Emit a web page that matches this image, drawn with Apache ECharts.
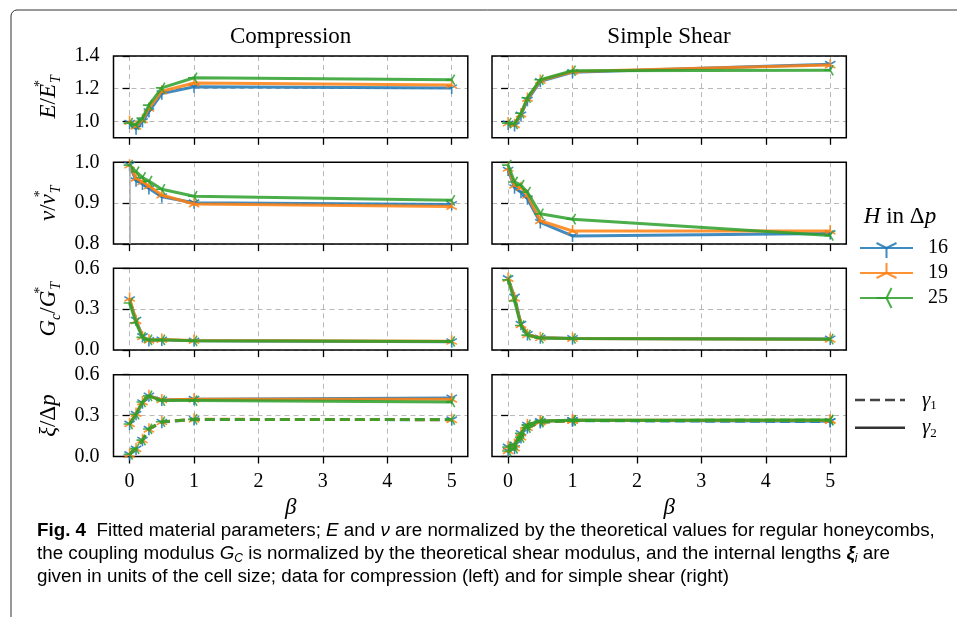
<!DOCTYPE html>
<html><head><meta charset="utf-8">
<script src="https://cdn.jsdelivr.net/npm/echarts@6/dist/echarts.min.js"></script>
<style>html,body{margin:0;padding:0;background:#fff}#c{width:957px;height:617px}</style>
</head><body><div id="c"></div>
<script>
// ---------- data ----------
const beta = [0, 0.1, 0.2, 0.3, 0.5, 1, 5];
const seriesNames = ['16', '19', '25'];
const xTicks = [0, 1, 2, 3, 4, 5];
const yTicksE = [1.0, 1.2, 1.4];
const yTicksNu = [0.8, 0.9, 1.0];
const yTicksG = [0.0, 0.3, 0.6];
const yTicksXi = [0.0, 0.3, 0.6];

// Compression
const compE16 = [0.99, 0.955, 1.00, 1.06, 1.170, 1.212, 1.205];
const compE19 = [1.00, 0.970, 1.01, 1.08, 1.185, 1.235, 1.222];
const compE25 = [0.99, 0.980, 1.02, 1.10, 1.205, 1.267, 1.255];
const compNu16 = [0.993, 0.955, 0.947, 0.936, 0.916, 0.901, 0.897];
const compNu19 = [0.993, 0.961, 0.952, 0.942, 0.920, 0.898, 0.892];
const compNu25 = [0.993, 0.977, 0.963, 0.954, 0.934, 0.917, 0.907];
const compG16 = [0.370, 0.220, 0.100, 0.070, 0.075, 0.068, 0.062];
const compG19 = [0.380, 0.215, 0.097, 0.072, 0.077, 0.070, 0.064];
const compG25 = [0.345, 0.200, 0.093, 0.075, 0.075, 0.068, 0.063];
const compXi2_16 = [0.238, 0.310, 0.395, 0.445, 0.415, 0.420, 0.430];
const compXi2_19 = [0.240, 0.315, 0.400, 0.445, 0.415, 0.420, 0.420];
const compXi2_25 = [0.238, 0.310, 0.400, 0.445, 0.410, 0.410, 0.400];
const compXi1_16 = [0.015, 0.055, 0.120, 0.200, 0.252, 0.272, 0.270];
const compXi1_19 = [0.015, 0.057, 0.122, 0.200, 0.254, 0.273, 0.270];
const compXi1_25 = [0.016, 0.058, 0.120, 0.202, 0.255, 0.272, 0.271];
// Simple shear
const shearE16 = [0.985, 0.975, 1.040, 1.130, 1.245, 1.300, 1.350];
const shearE19 = [0.990, 0.980, 1.045, 1.140, 1.250, 1.305, 1.345];
const shearE25 = [0.990, 0.985, 1.050, 1.145, 1.255, 1.310, 1.313];
const shearNu16 = [0.981, 0.938, 0.927, 0.911, 0.853, 0.820, 0.826];
const shearNu19 = [0.985, 0.944, 0.938, 0.919, 0.857, 0.832, 0.832];
const shearNu25 = [0.993, 0.952, 0.944, 0.927, 0.874, 0.861, 0.821];
const shearG16 = [0.525, 0.390, 0.190, 0.115, 0.090, 0.086, 0.082];
const shearG19 = [0.525, 0.380, 0.186, 0.112, 0.090, 0.085, 0.080];
const shearG25 = [0.515, 0.360, 0.180, 0.110, 0.088, 0.085, 0.080];
const shearXi2_16 = [0.070, 0.085, 0.170, 0.230, 0.258, 0.265, 0.258];
const shearXi2_19 = [0.072, 0.088, 0.172, 0.232, 0.258, 0.266, 0.266];
const shearXi2_25 = [0.070, 0.086, 0.170, 0.232, 0.260, 0.266, 0.268];
const shearXi1_16 = [0.040, 0.060, 0.140, 0.210, 0.250, 0.263, 0.256];
const shearXi1_19 = [0.042, 0.062, 0.142, 0.212, 0.252, 0.264, 0.264];
const shearXi1_25 = [0.040, 0.060, 0.140, 0.212, 0.252, 0.264, 0.266];

// ---------- styling / layout ----------
const serif = "'Liberation Serif','DejaVu Serif',serif";
const colors = ['#1f77b4', '#ff7f0e', '#2ca02c'];
const syms = [
  'path://M0,0L0,1M0,0L-0.866,-0.5M0,0L0.866,-0.5M0,-1L0,-1.001',
  'path://M0,0L0,-1M0,0L-0.866,0.5M0,0L0.866,0.5M0,1L0,1.001',
  'path://M0,0L-1,0M0,0L0.5,-0.866M0,0L0.5,0.866M1,0L1.001,0'
];
const colLeft = [113.5, 492];
const colW = 354.3;
const rowTop = [56, 162.3, 268.3, 374.7];
const rowH = 81.8;

const richName = {
  i: {fontFamily: serif, fontStyle: 'italic', fontSize: 23, lineHeight: 30, color: '#000'},
  n: {fontFamily: serif, fontSize: 23, lineHeight: 30, color: '#000'},
  sup: {fontFamily: serif, fontSize: 14, lineHeight: 15, verticalAlign: 'top', color: '#000', width: 1},
  sub: {fontFamily: serif, fontStyle: 'italic', fontSize: 14, lineHeight: 12, verticalAlign: 'bottom', color: '#000'}
};
const rowDefs = [
  {min: 0.9, max: 1.4, ticks: yTicksE, name: '{i|E}{n|/}{i|E}{sup|*}{sub|T}'},
  {min: 0.8, max: 1.0, ticks: yTicksNu, name: '{i|ν}{n|/}{i|ν}{sup|*}{sub|T}'},
  {min: 0.0, max: 0.6, ticks: yTicksG, name: '{i|G}{sub|c}{n|/}{i|G}{sup|*}{sub|T}'},
  {min: 0.0, max: 0.6, ticks: yTicksXi, name: '{i|ξ}{n|/Δ}{i|p}'}
];
const panels = [
  [[[compE16, compE19, compE25]], [[shearE16, shearE19, shearE25]]],
  [[[compNu16, compNu19, compNu25]], [[shearNu16, shearNu19, shearNu25]]],
  [[[compG16, compG19, compG25]], [[shearG16, shearG19, shearG25]]],
  [[[compXi1_16, compXi1_19, compXi1_25], [compXi2_16, compXi2_19, compXi2_25]],
   [[shearXi1_16, shearXi1_19, shearXi1_25], [shearXi2_16, shearXi2_19, shearXi2_25]]]
];

const grids = [], xAxes = [], yAxes = [], series = [];
for (let r = 0; r < 4; r++) {
  for (let c = 0; c < 2; c++) {
    const g = r * 2 + c;
    const rd = rowDefs[r];
    grids.push({left: colLeft[c], top: rowTop[r], width: colW, height: rowH, z: 1,
      show: true, borderColor: '#000', borderWidth: 1.5, backgroundColor: 'rgba(0,0,0,0)'});
    xAxes.push({type: 'value', gridIndex: g, min: -0.25, max: 5.25,
      axisLine: {show: false},
      axisTick: {show: true, length: 7, customValues: xTicks, lineStyle: {color: '#000', width: 1.3}},
      axisLabel: {show: r === 3, customValues: xTicks, margin: 15, fontFamily: serif, fontSize: 20, color: '#000',
        formatter: v => String(v)},
      splitLine: {show: true, lineStyle: {color: '#b8b8b8', type: [5, 4], width: 1}},
      name: r === 3 ? 'β' : '', nameLocation: 'middle', nameGap: 40,
      nameTextStyle: {fontFamily: serif, fontStyle: 'italic', fontSize: 23, color: '#000'}
    });
    yAxes.push({type: 'value', gridIndex: g, min: rd.min, max: rd.max,
      axisLine: {show: false},
      axisTick: {show: true, length: 7, customValues: rd.ticks, lineStyle: {color: '#000', width: 1.3}},
      axisLabel: {show: c === 0, customValues: rd.ticks, margin: 14, fontFamily: serif, fontSize: 20, color: '#000',
        formatter: v => v.toFixed(1)},
      splitLine: {show: true, lineStyle: {color: '#b8b8b8', type: [5, 4], width: 1}},
      name: c === 0 ? rd.name : '', nameLocation: 'middle', nameGap: 50, nameRotate: 90,
      nameTextStyle: {rich: richName}
    });
    const groups = panels[r][c];
    groups.forEach((grp, gi) => {
      const dashed = groups.length === 2 && gi === 0;
      grp.forEach((vals, i) => {
        const s = {
          type: 'line', name: seriesNames[i], xAxisIndex: g, yAxisIndex: g,
          data: beta.map((b, k) => [b, vals[k]]),
          symbol: syms[i], symbolSize: 12, symbolKeepAspect: true, showSymbol: true,
          lineStyle: {color: colors[i], width: 3, opacity: 0.85, type: dashed ? [10, 5] : 'solid'},
          itemStyle: {color: 'rgba(0,0,0,0)', borderColor: colors[i], borderWidth: 1.6, opacity: 0.85},
          emphasis: {disabled: true}, z: 2 + i, animation: false
        };
        if (r === 1 && c === 0 && i === 0) {
          s.markLine = {silent: true, symbol: 'none', label: {show: false}, animation: false,
            lineStyle: {color: '#aaaaaa', type: 'solid', width: 1.5},
            data: [[{coord: [0, 0.99]}, {coord: [0, 0.8]}]]};
        }
        series.push(s);
      });
    });
  }
}

const capFont = "'Liberation Sans','Open Sans',sans-serif";
const capSize = 18.8;
const capRich = {
  b: {fontFamily: capFont, fontWeight: 'bold', fontSize: capSize, color: '#222'},
  t: {fontFamily: capFont, fontSize: capSize, color: '#222'},
  i: {fontFamily: capFont, fontStyle: 'italic', fontSize: capSize, color: '#222'},
  s: {fontFamily: capFont, fontStyle: 'italic', fontSize: 12, color: '#222', verticalAlign: 'bottom', lineHeight: 16},
  bi: {fontFamily: capFont, fontStyle: 'italic', fontWeight: 'bold', fontSize: capSize, color: '#222'}
};
function capLine(text, y) {
  return {type: 'text', x: 37, y: y, silent: true,
    style: {text: text, rich: capRich, verticalAlign: 'middle', align: 'left', lineHeight: 22}};
}

const graphic = [
  {type: 'rect', silent: true, shape: {x: 11, y: 10, width: 1000, height: 700, r: 6},
    style: {fill: 'none', stroke: '#333', lineWidth: 1}},
  {type: 'text', x: 290.6, y: 37, silent: true,
    style: {text: 'Compression', fontFamily: serif, fontSize: 23, fill: '#000', align: 'center', verticalAlign: 'middle'}},
  {type: 'text', x: 669, y: 37, silent: true,
    style: {text: 'Simple Shear', fontFamily: serif, fontSize: 23, fill: '#000', align: 'center', verticalAlign: 'middle'}},
  {type: 'text', x: 900, y: 217, silent: true,
    style: {text: '{i|H}{n| in Δ}{i|p}', align: 'center', verticalAlign: 'middle',
      rich: {i: {fontFamily: serif, fontStyle: 'italic', fontSize: 23, color: '#000'},
             n: {fontFamily: serif, fontSize: 23, color: '#000'}}}},
  {type: 'line', silent: true, shape: {x1: 855, y1: 400, x2: 905, y2: 400},
    style: {stroke: '#444', lineWidth: 2.5, lineDash: [10, 5]}},
  {type: 'line', silent: true, shape: {x1: 855, y1: 427.7, x2: 905, y2: 427.7},
    style: {stroke: '#333', lineWidth: 2.5}},
  {type: 'text', x: 922, y: 400, silent: true,
    style: {text: '{i|γ}{s|1}', verticalAlign: 'middle',
      rich: {i: {fontFamily: serif, fontStyle: 'italic', fontSize: 21, color: '#000', lineHeight: 24},
             s: {fontFamily: serif, fontSize: 13, color: '#000', verticalAlign: 'bottom', lineHeight: 14}}}},
  {type: 'text', x: 922, y: 427.7, silent: true,
    style: {text: '{i|γ}{s|2}', verticalAlign: 'middle',
      rich: {i: {fontFamily: serif, fontStyle: 'italic', fontSize: 21, color: '#000', lineHeight: 24},
             s: {fontFamily: serif, fontSize: 13, color: '#000', verticalAlign: 'bottom', lineHeight: 14}}}},
  capLine('{b|Fig. 4}{t|  Fitted material parameters; }{i|E}{t| and }{i|ν}{t| are normalized by the theoretical values for regular honeycombs,}', 531),
  capLine('{t|the coupling modulus }{i|G}{s|C}{t| is normalized by the theoretical shear modulus, and the internal lengths }{bi|ξ}{s|i}{t| are}', 554),
  capLine('{t|given in units of the cell size; data for compression (left) and for simple shear (right)}', 577)
];

const chart = echarts.init(document.getElementById('c'), null, {renderer: 'canvas'});
chart.setOption({
  animation: false,
  backgroundColor: '#fff',
  grid: grids, xAxis: xAxes, yAxis: yAxes, series: series,
  legend: {data: seriesNames, orient: 'vertical', left: 854, top: 232, itemWidth: 53, itemHeight: 25, itemGap: 3,
    selectedMode: false,
    itemStyle: {borderWidth: 2},
    textStyle: {fontFamily: serif, fontSize: 20, color: '#000', padding: [0, 0, 0, 10]}},
  graphic: graphic
});
</script></body></html>
